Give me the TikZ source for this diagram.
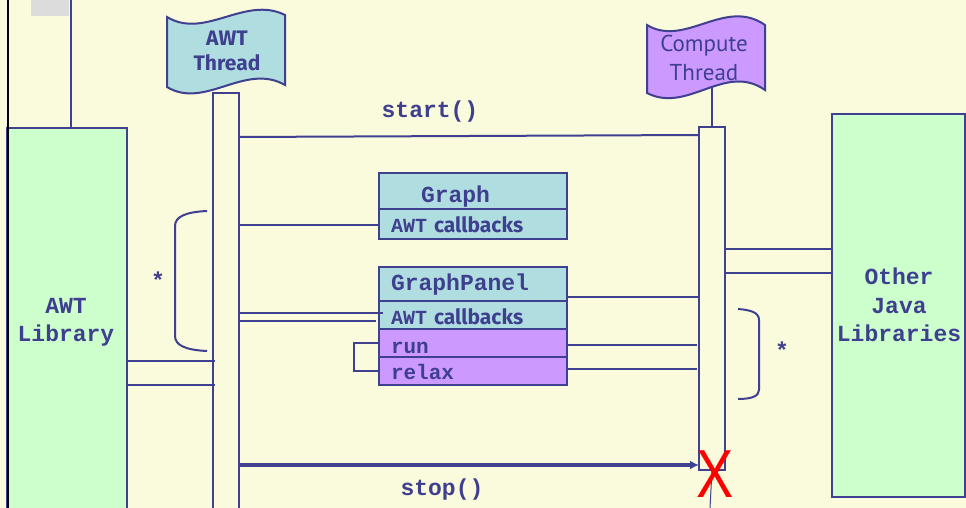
\documentclass[tikz,border=0pt]{standalone}
\usepackage{fontspec}
\usetikzlibrary{arrows.meta}
\newfontfamily\cour{Liberation Mono}
\newfontfamily\comic{Fira Sans}
\newfontfamily\tah{PT Sans}
\newfontfamily\arl{Liberation Sans}
\definecolor{bgc}{HTML}{FAFADC}
\definecolor{lc}{HTML}{404090}
\definecolor{tc}{HTML}{3F3F8F}
\definecolor{grn}{HTML}{CCFFCC}
\definecolor{cyn}{HTML}{B0DEE0}
\definecolor{pur}{HTML}{CC99FF}
\definecolor{gry}{HTML}{DCDCDC}
\begin{document}
\begin{tikzpicture}[x=1pt,y=-1pt,
  blk/.style={draw=lc, line width=2pt, inner sep=0pt, outer sep=0pt, anchor=north west},
  conn/.style={draw=lc, line width=2pt},
  row/.style={blk, minimum width=188pt, text width=164pt, inner xsep=12pt, align=left, text=tc, font=\cour\bfseries\fontsize{21}{21}\selectfont, text depth=2pt},
  lbl/.style={text=tc, font=\cour\bfseries\fontsize{23}{28}\selectfont, align=center, inner sep=0pt},
  flagtxt/.style={text=tc, align=center, inner sep=0pt}]
\useasboundingbox (0,0) rectangle (966,508);
\fill[bgc] (0,0) rectangle (966,508);
% top-left decorations
\fill[gry] (31,0) rectangle (69,16);
% library boxes
\node[blk, fill=grn, minimum width=120pt, minimum height=390pt] (awtlib) at (7,128) {};
\node[blk, fill=grn, minimum width=133pt, minimum height=383pt] (other) at (832,114) {};
\coordinate (libtop) at (70.5,0);
\draw[conn] (libtop) -- (libtop |- awtlib.north);
\draw[black, line width=2pt] (7.5,0) -- (7.5,508);
\node[lbl] (awtlibtxt) at (66,322) {AWT\\Library};
\node[lbl, font=\cour\bfseries\fontsize{23}{28.5}\selectfont] (othertxt) at (899,305) {Other\\Java\\Libraries};
% lifelines
\node[blk, fill=bgc, minimum width=26pt, minimum height=425pt] (awtbox) at (213,93) {};
\node[blk, fill=bgc, minimum width=26pt, minimum height=343pt] (compbox) at (699,127) {};
% class boxes
\node[row, fill=cyn, minimum height=36pt, text height=24pt] (graph) at (379,173) {\hspace*{30pt}{\fontsize{23}{23}\selectfont Graph}};
\node[row, fill=cyn, minimum height=30pt, text height=18pt] (gcb) at (379,209) {{\fontsize{20}{20}\selectfont AWT} {\comic\bfseries callbacks}};
\node[row, fill=cyn, minimum height=34pt, text height=14pt] (gp) at (379,267) {{\fontsize{23}{23}\selectfont GraphPanel}};
\node[row, fill=cyn, minimum height=28pt, text height=20pt] (pcb) at (379,301) {{\fontsize{20}{20}\selectfont AWT} {\comic\bfseries callbacks}};
\node[row, fill=pur, minimum height=28pt, text height=22pt] (run) at (379,329) {run};
\node[row, fill=pur, minimum height=28pt, text height=18pt] (relax) at (379,357) {relax};
% connectors
\draw[conn] (awtbox.east |- 0,137) -- (compbox.west |- 0,135);
\draw[conn] (awtbox.east |- 0,225) -- (gcb.west |- 0,225);
\draw[conn] (gp.east |- 0,297) -- (compbox.west |- 0,297);
\draw[conn] (run.east |- 0,345) -- ([xshift=-2pt]compbox.west |- 0,345);
\draw[conn] (relax.east |- 0,369) -- ([xshift=-2pt]compbox.west |- 0,369);
\draw[conn] (awtbox.east |- 0,313) -- ([xshift=4pt]pcb.west |- 0,313);
\draw[conn] (awtbox.east |- 0,321) -- ([xshift=-3pt]pcb.west |- 0,321);
\draw[conn] (run.west |- 0,343) -- ++(-25,0) |- (relax.west |- 0,371);
\draw[conn] (awtlib.east |- 0,361) -- ([xshift=2pt]awtbox.west |- 0,361);
\draw[conn] (awtlib.east |- 0,385) -- ([xshift=2pt]awtbox.west |- 0,385);
\draw[conn] (compbox.east |- 0,249) -- (other.west |- 0,249);
\draw[conn] (compbox.east |- 0,273) -- (other.west |- 0,273);
\draw[conn, line width=3.5pt, -{Latex[length=9pt,width=9pt]}] (awtbox.east |- 0,465) -- (compbox.west |- 0,465);
\draw[conn] (compbox.north) -- ++(0,-40);
% brackets
\draw[lc, line width=2pt] (207,211) .. controls (185,212) and (175,217) .. (175,226) -- (175,336) .. controls (175,345) and (185,350) .. (207,351);
\draw[lc, line width=2pt] (738,309) .. controls (752,310) and (759,313) .. (759,320) -- (759,390) .. controls (759,396) and (752,399) .. (738,399);
% flags
\filldraw[fill=cyn, draw=lc, line width=2pt] (167,17) .. controls (205,40) and (245,-5) .. (285,15) -- (285,85) .. controls (245,62) and (205,110) .. (167,87) -- cycle;
\filldraw[fill=pur, draw=lc, line width=2pt] (647,25) .. controls (685,48) and (725,-3) .. (765,25) -- (765,90) .. controls (725,62) and (688,114) .. (647,93) -- cycle;
\node[flagtxt, font=\comic\bfseries\fontsize{21}{25}\selectfont] (awtflag) at (227,51) {AWT\\Thread};
\node[flagtxt, font=\tah\fontsize{23}{29}\selectfont] (compflag) at (704,58) {Compute\\Thread};
% labels
\node[lbl] (startlbl) at (430,112) {start()};
\node[lbl] (stoplbl) at (442,490) {stop()};
\node[lbl] (star1) at (158,280) {*};
\node[lbl] (star2) at (782,350) {*};
% end of compute thread
\coordinate (lifeend) at (710,508);
\draw[lc, line width=1pt] (compbox.south) -- (lifeend);
\node[text=red, font=\arl\fontsize{68}{68}\selectfont, inner sep=0pt] (xmark) at (715.5,474) {\scalebox{0.82}[1]{X}};
\end{tikzpicture}
\end{document}
